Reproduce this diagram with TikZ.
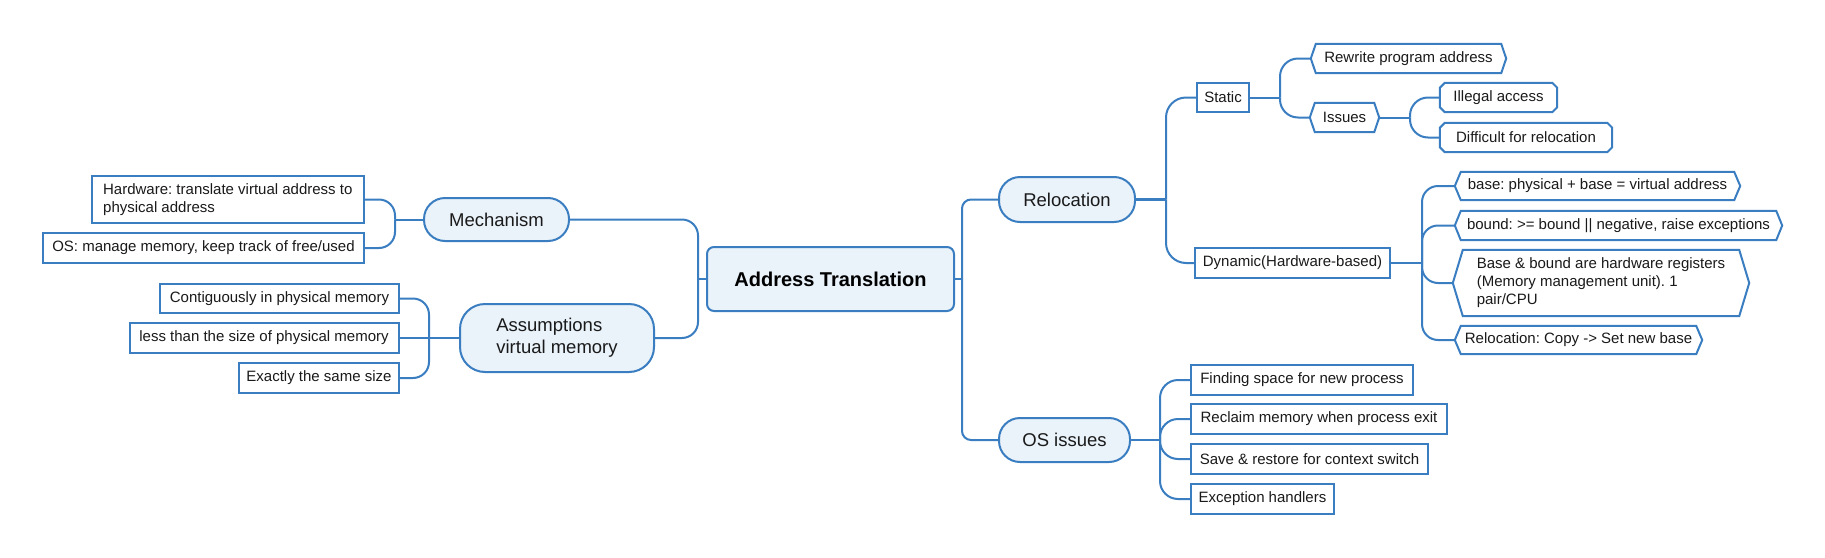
\documentclass[tikz,border=0pt]{standalone}
\usepackage{fontspec}
\setmainfont{Liberation Sans}
\frenchspacing
\definecolor{bl}{HTML}{3A7EC1}
\definecolor{fl}{HTML}{EAF2FA}
\definecolor{tx}{HTML}{1A1A1A}
\begin{document}
\begin{tikzpicture}[x=1pt,y=-1pt,
  every node/.style={font=\fontsize{15}{18}\selectfont, text=tx},
  con/.style={draw=bl, line width=2pt, rounded corners=#1},
  con/.default=15pt,
  rect/.style={draw=bl, line width=2pt, fill=white, inner sep=0pt, align=left},
  plain/.style={inner sep=0pt, align=left},
  pill/.style={draw=bl, line width=2pt, fill=fl, rounded corners=21pt, inner sep=0pt, align=left, font=\fontsize{18.5}{22}\selectfont},
  rootbox/.style={draw=bl, line width=2pt, fill=fl, rounded corners=7pt, inner sep=0pt, font=\fontsize{20}{24}\selectfont\bfseries, text=black},
  outl/.style={draw=bl, line width=2pt},
]
\useasboundingbox (0,0) rectangle (1825,557);
\fill[white] (0,0) rectangle (1825,557);

% root and main branches
\node[rootbox, minimum width=247, minimum height=64] (root) at (830.5,279) {Address Translation};
\node[pill, minimum width=145, minimum height=43] (mech) at (496.5,219.5) {Mechanism};
\node[pill, rounded corners=25pt, minimum width=194, minimum height=68] (assum) at (557,338) {Assumptions\\virtual memory};
\node[pill, minimum width=136, minimum height=45] (reloc) at (1067,199.5) {Relocation};
\node[pill, minimum width=131, minimum height=44] (osi) at (1064.5,440) {OS issues};

% left leaves
\node[rect, minimum width=272, minimum height=47] (hw) at (227.8,199.5) {Hardware: translate virtual address to\\physical address};
\node[rect, minimum width=321, minimum height=30] (os) at (203.5,248) {OS: manage memory, keep track of free/used};
\node[rect, minimum width=239, minimum height=29] (cont) at (279.5,298.5) {Contiguously in physical memory};
\node[rect, minimum width=269, minimum height=30] (less) at (264,338) {less than the size of physical memory};
\node[rect, minimum width=160, minimum height=30] (exact) at (319,378) {Exactly the same size};

% relocation subtree
\node[rect, minimum width=52, minimum height=29] (static) at (1223,97.5) {Static};
\node[rect, minimum width=195, minimum height=30] (dyn) at (1292.5,263) {Dynamic(Hardware-based)};
\node[plain, minimum width=195, minimum height=29] (rw) at (1408.5,58.5) {Rewrite program address};
\node[plain, minimum width=69, minimum height=29] (iss) at (1344.5,117.5) {Issues};
\node[plain, minimum width=117, minimum height=29] (ill) at (1498.5,97.5) {Illegal access};
\node[plain, minimum width=172, minimum height=29] (dif) at (1526,137.5) {Difficult for relocation};
\node[plain, minimum width=285, minimum height=28] (base) at (1597.5,186) {base: physical + base = virtual address};
\node[plain, minimum width=327, minimum height=29] (bound) at (1618.5,225.5) {bound: >= bound || negative, raise exceptions};
\node[plain, minimum width=296, minimum height=66] (bb) at (1601,283) {Base \& bound are hardware registers\\(Memory management unit). 1\\pair/CPU};
\node[plain, minimum width=247, minimum height=28] (rc) at (1578.5,340) {Relocation: Copy -> Set new base};

% OS issues leaves
\node[rect, minimum width=222, minimum height=30] (find) at (1302,380) {Finding space for new process};
\node[rect, minimum width=256, minimum height=30] (recl) at (1319,419) {Reclaim memory when process exit};
\node[rect, minimum width=237, minimum height=30] (save) at (1309.5,459) {Save \& restore for context switch};
\node[rect, minimum width=143, minimum height=30] (exc) at (1262.5,499) {Exception handlers};

% hexagon outlines
\foreach \n/\d in {rw/5,iss/5,base/6,bound/6,bb/10,rc/6}{
  \draw[outl] (\n.west) -- ([xshift=\d pt]\n.north west) -- ([xshift=-\d pt]\n.north east) -- (\n.east) -- ([xshift=-\d pt]\n.south east) -- ([xshift=\d pt]\n.south west) -- cycle;
}
% chamfered outlines
\foreach \n in {ill,dif}{
  \draw[outl] ([yshift=-5pt]\n.north west) -- ([xshift=5pt]\n.north west) -- ([xshift=-5pt]\n.north east) -- ([yshift=-5pt]\n.north east) -- ([yshift=5pt]\n.south east) -- ([xshift=-5pt]\n.south east) -- ([xshift=5pt]\n.south west) -- ([yshift=5pt]\n.south west) -- cycle;
}

% junctions
\coordinate (jL) at (698,279);
\coordinate (jR) at (962,279);
\coordinate (jM) at (395,219.5);
\coordinate (jA) at (429,338);
\coordinate (jRl) at (1166,199.5);
\coordinate (jS) at (1280,97.5);
\coordinate (jI) at (1410,117.5);
\coordinate (jD) at (1422,263);
\coordinate (jO) at (1160,440);

% connectors
\draw[con] (root.west) -- (jL);
\draw[con=16pt] (mech.east) -| (jL);
\draw[con=16pt] (assum.east) -| (jL);
\draw[con] (root.east) -- (jR);
\draw[con=9pt] (jR) |- (reloc.west);
\draw[con=9pt] (jR) |- (osi.west);

\draw[con] (mech.west) -- (jM);
\draw[con=16pt] (jM) |- (hw.east);
\draw[con=16pt] (jM) |- (os.east);

\draw[con] (assum.west) -- (jA);
\draw[con=16pt] (jA) |- (cont.east);
\draw[con] (jA) -- (less.east);
\draw[con=16pt] (jA) |- (exact.east);

\draw[con, line width=3pt] (reloc.east) -- (jRl);
\draw[con=20pt] (jRl) |- (static.west);
\draw[con=20pt] (jRl) |- (dyn.west);

\draw[con] (static.east) -- (jS);
\draw[con=18pt] (jS) |- (rw.west);
\draw[con=18pt] (jS) |- (iss.west);

\draw[con] (iss.east) -- (jI);
\draw[con=18pt] (jI) |- (ill.west);
\draw[con=18pt] (jI) |- (dif.west);

\draw[con] (dyn.east) -- (jD);
\foreach \n in {base,bound,bb,rc}{\draw[con=16pt] (jD) |- (\n.west);}

\draw[con] (osi.east) -- (jO);
\foreach \n in {find,recl,save,exc}{\draw[con=18pt] (jO) |- (\n.west);}
\end{tikzpicture}
\end{document}
